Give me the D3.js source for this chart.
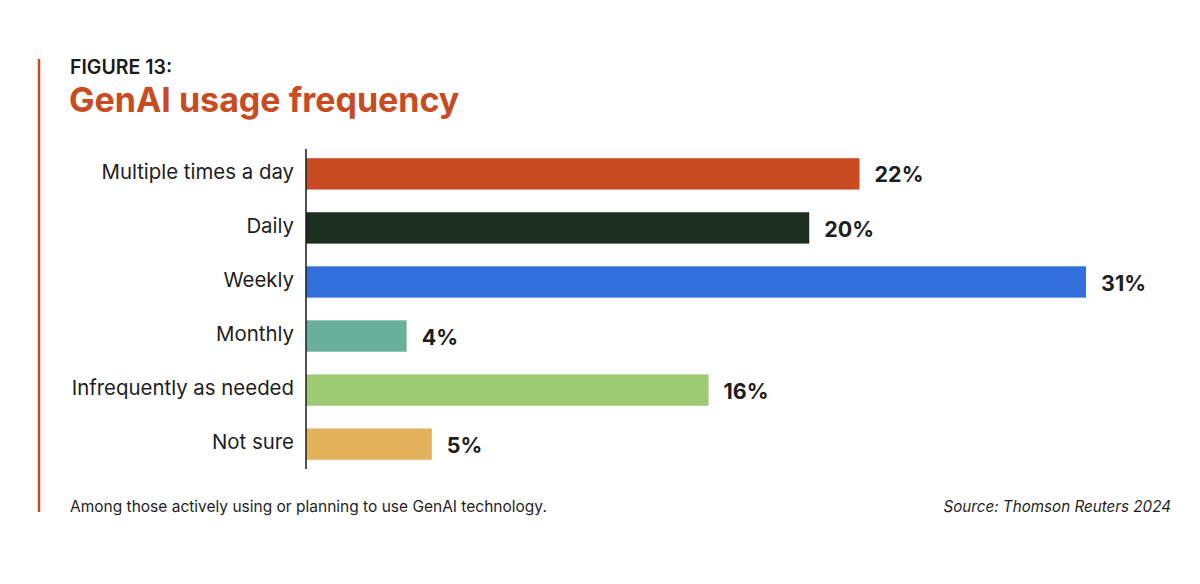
<!DOCTYPE html>
<html>
<head>
<meta charset="utf-8">
<script src="https://cdn.jsdelivr.net/npm/d3@7"></script>
<style>
  body { margin: 0; background: #fff; }
  text { font-family: Inter, "Open Sans", sans-serif; }
</style>
</head>
<body>
<div id="chart-container"></div>
<script>
// horizontal bar chart, genai usage frequency
const svgWidth = 1200;
const svgHeight = 584;

const categories = ["Multiple times a day", "Daily", "Weekly", "Monthly", "Infrequently as needed", "Not sure"];
const values = [22, 20, 31, 4, 16, 5];
const barColors = ["#c84b21", "#1c2e22", "#3270dc", "#68b09a", "#9dca72", "#e2b35c"];

const svg = d3.select("#chart-container")
    .append("svg")
    .attr("width", svgWidth)
    .attr("height", svgHeight);

// scales
const x = d3.scaleLinear()
    .domain([0, 31])
    .range([306, 1086]);

const y = d3.scaleBand()
    .domain(categories)
    .range([149, 469])
    .paddingInner(0.42)
    .paddingOuter(0.17);

// red accent line on the left
svg.append("line")
    .attr("x1", 39).attr("x2", 39)
    .attr("y1", 59).attr("y2", 512)
    .attr("stroke", "#c84b21")
    .attr("stroke-width", 2.5);

// titles
svg.append("text")
    .text("FIGURE 13:")
    .attr("x", 70)
    .attr("y", 74)
    .attr("font-size", 19.5)
    .attr("font-weight", 600)
    .attr("fill", "#1a1a1a");

svg.append("text")
    .text("GenAI usage frequency")
    .attr("x", 69)
    .attr("y", 112)
    .attr("font-size", 34)
    .attr("font-weight", 700)
    .attr("fill", "#c84b21");

// bars
svg.selectAll(".bar")
    .data(categories)
    .enter()
    .append("rect")
    .attr("class", "bar")
    .attr("x", x(0))
    .attr("y", d => y(d))
    .attr("width", (d, i) => x(values[i]) - x(0))
    .attr("height", y.bandwidth())
    .attr("fill", (d, i) => barColors[i]);

// value labels
svg.selectAll(".barLabel")
    .data(categories)
    .enter()
    .append("text")
    .attr("class", "barLabel")
    .text((d, i) => `${values[i]}%`)
    .attr("x", (d, i) => x(values[i]) + 15)
    .attr("y", d => y(d) + y.bandwidth() / 2)
    .attr("dy", "0.4em")
    .attr("font-size", 21.5)
    .attr("font-weight", 700)
    .attr("fill", "#1e1e1e");

// y axis, just the line and labels
const yAxis = svg.append("g")
    .attr("class", "axis axis-y")
    .attr("transform", `translate(${x(0)},0)`)
    .call(d3.axisLeft(y).tickSize(0).tickPadding(12));

yAxis.select(".domain")
    .attr("d", `M0,149V469`)
    .attr("stroke", "#1a1a1a")
    .attr("stroke-width", 1.5);

yAxis.selectAll("text")
    .attr("font-family", "Inter, 'Open Sans', sans-serif")
    .attr("font-size", 20.4)
    .attr("dy", "0.25em")
    .attr("fill", "#1e1e1e");

// footnotes
svg.append("text")
    .text("Among those actively using or planning to use GenAI technology.")
    .attr("x", 70)
    .attr("y", 512)
    .attr("font-size", 15.5)
    .attr("fill", "#1e1e1e");

svg.append("text")
    .text("Source: Thomson Reuters 2024")
    .attr("x", 1171)
    .attr("y", 512)
    .attr("text-anchor", "end")
    .attr("font-size", 15.2)
    .attr("font-style", "italic")
    .attr("fill", "#1e1e1e");
</script>
</body>
</html>
